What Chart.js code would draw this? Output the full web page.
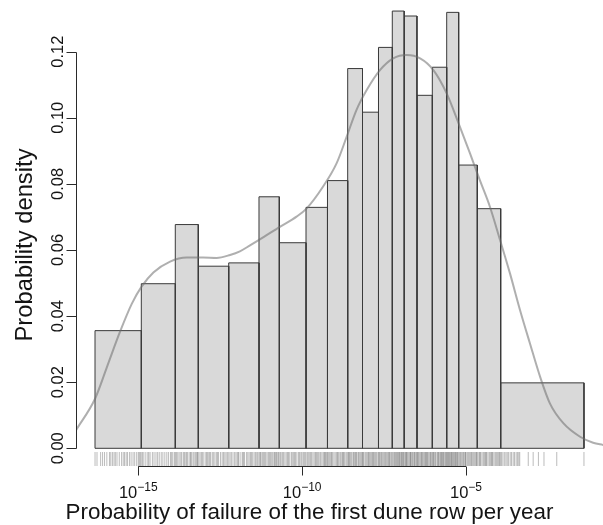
<!DOCTYPE html>
<html>
<head>
<meta charset="utf-8">
<script src="https://cdn.jsdelivr.net/npm/chart.js@4/dist/chart.umd.min.js"></script>
<style>
  html, body { margin: 0; padding: 0; background: #ffffff; }
  canvas { display: block; }
</style>
</head>
<body>
<canvas id="chart" width="603" height="525"></canvas>
<script>
// Histogram bin edges, in log10 of the yearly failure probability
const binEdges = [-16.321, -14.908, -13.871, -13.169, -12.241, -11.317, -10.697, -9.882,
  -9.227, -8.610, -8.158, -7.670, -7.249, -6.886, -6.496, -6.028, -5.589, -5.223,
  -4.655, -3.941, -1.399];

// Density of each bin (per log10 unit)
const binDensity = [0.0356, 0.0498, 0.0677, 0.0551, 0.0561, 0.0761, 0.0622, 0.0729,
  0.0810, 0.1149, 0.1017, 0.1213, 0.1323, 0.1308, 0.1068, 0.1153, 0.1319, 0.0857,
  0.0725, 0.0198];

// Kernel density estimate
const kdeX = [-16.90, -16.32, -15.96, -15.56, -15.20, -14.90, -14.54, -14.03, -13.52,
  -13.02, -12.61, -12.20, -11.90, -11.59, -11.29, -10.68, -10.17, -9.86, -9.36, -8.95,
  -8.64, -8.34, -8.03, -7.62, -7.22, -6.81, -6.40, -6.00, -5.59, -5.24, -4.88, -4.58,
  -4.27, -3.96, -3.66, -3.35, -3.05, -2.74, -2.44, -2.03, -1.52, -1.12, -0.81];
const kdeY = [0.0055, 0.0150, 0.0245, 0.0352, 0.0437, 0.0489, 0.0532, 0.0565, 0.0577,
  0.0577, 0.0576, 0.0585, 0.0596, 0.0614, 0.0632, 0.0670, 0.0701, 0.0726, 0.0792, 0.0862,
  0.0943, 0.1024, 0.1084, 0.1145, 0.1180, 0.1190, 0.1180, 0.1145, 0.1074, 0.0987, 0.0893,
  0.0812, 0.0731, 0.0630, 0.0530, 0.0418, 0.0318, 0.0217, 0.0136, 0.0076, 0.0035, 0.0017,
  0.0010];

// Individual observations shown as a rug
const rugX = [
  -16.32, -16.26, -16.15, -16.09, -16.03, -15.96, -15.88, -15.84, -15.79, -15.74, -15.70, -15.65,
  -15.58, -15.51, -15.46, -15.42, -15.37, -15.33, -15.27, -15.22, -15.16, -15.11, -15.05, -15.00,
  -14.97, -14.94,
  -14.91, -14.87, -14.83, -14.77, -14.71, -14.68, -14.64, -14.57, -14.52, -14.46, -14.41, -14.36,
  -14.30, -14.25, -14.19, -14.13, -14.08, -14.02, -13.99, -13.95, -13.90,
  -13.87, -13.84, -13.81, -13.76, -13.72, -13.68, -13.63, -13.60, -13.57, -13.53, -13.50, -13.45,
  -13.41, -13.39, -13.36, -13.31, -13.27, -13.24, -13.21, -13.19,
  -13.17, -13.12, -13.08, -13.05, -13.02, -12.96, -12.92, -12.89, -12.85, -12.82, -12.79, -12.74,
  -12.70, -12.66, -12.61, -12.58, -12.55, -12.49, -12.44, -12.40, -12.36, -12.32, -12.28,
  -12.24, -12.20, -12.16, -12.11, -12.06, -12.02, -11.98, -11.95, -11.93, -11.87, -11.82, -11.79,
  -11.76, -11.70, -11.66, -11.62, -11.58, -11.55, -11.52, -11.47, -11.43, -11.40, -11.36,
  -11.32, -11.29, -11.27, -11.23, -11.20, -11.17, -11.14, -11.11, -11.07, -11.03, -11.00, -10.97,
  -10.94, -10.90, -10.86, -10.84, -10.81, -10.78, -10.76, -10.72,
  -10.70, -10.66, -10.62, -10.59, -10.56, -10.52, -10.47, -10.44, -10.42, -10.38, -10.33, -10.30,
  -10.26, -10.23, -10.20, -10.16, -10.11, -10.08, -10.04, -10.01, -9.97, -9.94, -9.91,
  -9.88, -9.84, -9.81, -9.77, -9.74, -9.71, -9.67, -9.63, -9.59, -9.57, -9.54, -9.51,
  -9.48, -9.44, -9.40, -9.36, -9.33, -9.31, -9.29, -9.26,
  -9.23, -9.21, -9.18, -9.15, -9.12, -9.10, -9.07, -9.03, -8.99, -8.95, -8.92, -8.90,
  -8.87, -8.83, -8.79, -8.77, -8.74, -8.72, -8.69, -8.65,
  -8.61, -8.59, -8.57, -8.55, -8.52, -8.49, -8.45, -8.43, -8.40, -8.37, -8.35, -8.33,
  -8.29, -8.27, -8.24, -8.21, -8.18,
  -8.16, -8.14, -8.12, -8.08, -8.05, -8.02, -7.99, -7.97, -7.95, -7.92, -7.89, -7.86,
  -7.84, -7.82, -7.79, -7.76, -7.73, -7.69,
  -7.67, -7.64, -7.62, -7.59, -7.57, -7.54, -7.51, -7.48, -7.46, -7.43, -7.40, -7.37,
  -7.35, -7.33, -7.31, -7.27,
  -7.25, -7.22, -7.19, -7.17, -7.14, -7.13, -7.10, -7.08, -7.05, -7.04, -7.02, -6.99,
  -6.97, -6.95, -6.93, -6.91,
  -6.89, -6.86, -6.84, -6.82, -6.81, -6.78, -6.76, -6.72, -6.70, -6.69, -6.67, -6.64,
  -6.62, -6.59, -6.57, -6.55, -6.52,
  -6.50, -6.48, -6.46, -6.44, -6.41, -6.38, -6.36, -6.34, -6.32, -6.29, -6.26, -6.24,
  -6.22, -6.20, -6.18, -6.16, -6.13, -6.10, -6.08, -6.06,
  -6.03, -6.01, -5.99, -5.97, -5.94, -5.92, -5.88, -5.86, -5.84, -5.82, -5.79, -5.77,
  -5.75, -5.73, -5.71, -5.69, -5.67, -5.64, -5.62,
  -5.59, -5.58, -5.56, -5.53, -5.52, -5.50, -5.47, -5.45, -5.44, -5.41, -5.39, -5.37,
  -5.34, -5.33, -5.31, -5.28, -5.27, -5.25,
  -5.22, -5.19, -5.17, -5.14, -5.11, -5.08, -5.06, -5.03, -5.01, -5.00, -4.96, -4.93,
  -4.90, -4.87, -4.84, -4.82, -4.79, -4.76, -4.73, -4.70, -4.68,
  -4.66, -4.63, -4.59, -4.57, -4.55, -4.51, -4.47, -4.44, -4.41, -4.39, -4.37, -4.33,
  -4.29, -4.26, -4.23, -4.21, -4.19, -4.15, -4.11, -4.08, -4.05, -4.02, -3.99, -3.97,
  -3.94, -3.91, -3.87, -3.82, -3.78, -3.74, -3.70, -3.65, -3.61, -3.56, -3.52, -3.47,
  -3.43, -3.39, -3.36, -3.10, -2.95, -2.79, -2.62, -2.23, -1.40
];

// Axis ticks
const yTickValues = [0, 0.02, 0.04, 0.06, 0.08, 0.10, 0.12];
const yTickLabels = ['0.00', '0.02', '0.04', '0.06', '0.08', '0.10', '0.12'];
const xTickValues = [-15, -10, -5];
const xTickBase = ['10', '10', '10'];
const xTickExponent = ['\u221215', '\u221210', '\u22125'];

const xTitle = 'Probability of failure of the first dune row per year';
const yTitle = 'Probability density';

const FONT = '"Liberation Sans", Arial, Helvetica, sans-serif';

// Axes drawn R-style: lines only span the tick range
const baseAxes = {
  id: 'baseAxes',
  afterDatasetsDraw(chart) {
    const { ctx, scales: { x, y } } = chart;
    ctx.save();
    ctx.strokeStyle = '#2a2a2a';
    ctx.fillStyle = '#141414';
    ctx.lineWidth = 1;

    // left axis
    const ax = Math.round(x.left) + 0.5;
    ctx.beginPath();
    ctx.moveTo(ax, Math.round(y.getPixelForValue(yTickValues[0])) + 0.5);
    ctx.lineTo(ax, Math.round(y.getPixelForValue(yTickValues[yTickValues.length - 1])) + 0.5);
    yTickValues.forEach(v => {
      const p = Math.round(y.getPixelForValue(v)) + 0.5;
      ctx.moveTo(ax - 10, p);
      ctx.lineTo(ax, p);
    });
    ctx.stroke();

    ctx.font = '16.5px ' + FONT;
    ctx.textAlign = 'center';
    ctx.textBaseline = 'alphabetic';
    yTickValues.forEach((v, i) => {
      ctx.save();
      ctx.translate(ax - 14, y.getPixelForValue(v));
      ctx.rotate(-Math.PI / 2);
      ctx.fillText(yTickLabels[i], 0, 0);
      ctx.restore();
    });

    // bottom axis
    const ay = Math.round(y.bottom) + 0.5;
    ctx.beginPath();
    ctx.moveTo(x.getPixelForValue(xTickValues[0]), ay);
    ctx.lineTo(x.getPixelForValue(xTickValues[xTickValues.length - 1]), ay);
    xTickValues.forEach(v => {
      const p = Math.round(x.getPixelForValue(v)) + 0.5;
      ctx.moveTo(p, ay);
      ctx.lineTo(p, ay + 9);
    });
    ctx.stroke();

    xTickValues.forEach((v, i) => {
      const p = x.getPixelForValue(v);
      ctx.font = '16.5px ' + FONT;
      const wb = ctx.measureText(xTickBase[i]).width;
      ctx.font = '12px ' + FONT;
      const we = ctx.measureText(xTickExponent[i]).width;
      const start = p - (wb + we) / 2;
      ctx.textAlign = 'left';
      ctx.font = '16.5px ' + FONT;
      ctx.fillText(xTickBase[i], start, ay + 31);
      ctx.font = '12px ' + FONT;
      ctx.fillText(xTickExponent[i], start + wb, ay + 24);
    });

    // titles
    ctx.textAlign = 'center';
    ctx.font = '22.4px ' + FONT;
    ctx.fillText(xTitle, 309.5, ay + 52);
    ctx.font = '23.8px ' + FONT;
    ctx.save();
    ctx.translate(32, 245);
    ctx.rotate(-Math.PI / 2);
    ctx.fillText(yTitle, 0, 0);
    ctx.restore();

    ctx.restore();
  }
};

// One closed outline per bin
const barSets = binDensity.map((h, i) => ({
  type: 'line',
  data: [
    { x: binEdges[i], y: 0 }, { x: binEdges[i], y: h },
    { x: binEdges[i + 1], y: h }, { x: binEdges[i + 1], y: 0 },
    { x: binEdges[i], y: 0 }
  ],
  fill: 'shape',
  backgroundColor: '#d9d9d9',
  borderColor: '#3a3a3a',
  borderWidth: 1,
  pointRadius: 0,
  tension: 0,
  clip: false,
  order: 3
}));

const rugLevel = -0.00324;
const rugSet = {
  type: 'line',
  showLine: false,
  data: rugX.map(v => ({ x: v, y: rugLevel })),
  pointStyle: 'line',
  pointRotation: 90,
  pointRadius: 7,
  pointBorderWidth: 1,
  pointBorderColor: 'rgba(70,70,70,0.36)',
  pointBackgroundColor: 'rgba(70,70,70,0.36)',
  clip: false,
  order: 2
};

const kdeSet = {
  type: 'line',
  data: kdeX.map((v, i) => ({ x: v, y: kdeY[i] })),
  borderColor: 'rgba(110,110,110,0.55)',
  borderWidth: 2,
  pointRadius: 0,
  cubicInterpolationMode: 'monotone',
  fill: false,
  order: 1
};

new Chart(document.getElementById('chart').getContext('2d'), {
  type: 'line',
  data: { datasets: [kdeSet, rugSet, ...barSets] },
  options: {
    responsive: false,
    animation: false,
    devicePixelRatio: 1,
    events: [],
    layout: { autoPadding: false, padding: { left: 76, right: 0, top: 5, bottom: 59 } },
    scales: {
      x: { type: 'linear', min: -16.901, max: -0.819, display: false },
      y: { type: 'linear', min: -0.005356, max: 0.13413, display: false }
    },
    plugins: { legend: { display: false }, tooltip: { enabled: false } }
  },
  plugins: [baseAxes]
});
</script>
</body>
</html>
